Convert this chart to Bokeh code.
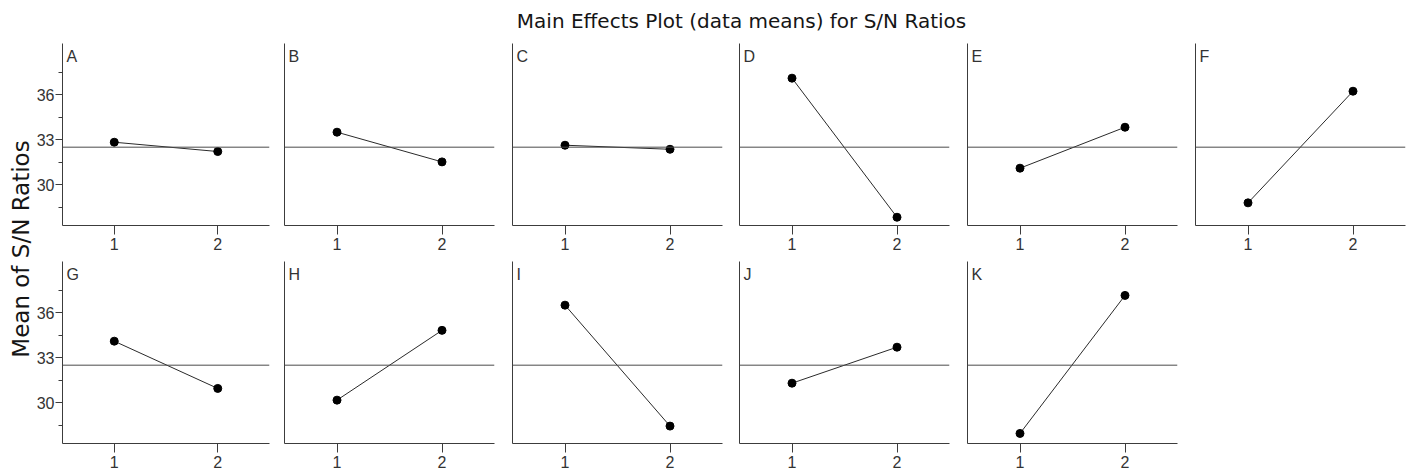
import math
from bokeh.plotting import figure
from bokeh.layouts import row, column
from bokeh.models import Range1d, FixedTicker, Span, Label
from bokeh.embed import file_html
from bokeh.resources import INLINE

# ---------------- data ----------------
factors = ["A", "B", "C", "D", "E", "F", "G", "H", "I", "J", "K"]
levels = [1, 2]
level1_means = [32.84, 33.51, 32.64, 37.11, 31.11, 28.80, 34.11, 30.18, 36.51, 31.31, 27.96]
level2_means = [32.22, 31.53, 32.37, 27.84, 33.84, 36.24, 30.96, 34.83, 28.45, 33.71, 37.16]
grand_mean = 32.51
y_major_ticks = [30, 33, 36]
y_minor_ticks = [28.5, 31.5, 34.5, 37.5]
x_ticks = [1, 2]
title_text = "Main Effects Plot (data means) for S/N Ratios"
ylabel_text = "Mean of S/N Ratios"

# ---------------- styling / geometry ----------------
TICK_FONT = "Liberation Sans"
AX = "#3c3c3c"
FRAME_W = 210
FRAME_H = 182
Y_LO, Y_HI = 27.29, 39.42
X_LO, X_HI = 0.5, 2.5

LAB_W = 33
# per column: (figure width, left border)
col_geom = [(277 - LAB_W, 59 - LAB_W), (227, 7), (227, 8), (228, 8), (228, 8), (228, 8)]
row_geom = [(1, 33), (3, 32)]  # (top border, bottom border)
TITLE_H = 42


def make_panel(idx, col, rw):
    w, left = col_geom[col]
    top, bottom = row_geom[rw]
    right = w - left - FRAME_W
    p = figure(width=w, height=top + FRAME_H + bottom,
               x_range=Range1d(X_LO, X_HI), y_range=Range1d(Y_LO, Y_HI),
               output_backend="svg", toolbar_location=None, tools="",
               min_border_left=left, min_border_right=right,
               min_border_top=top, min_border_bottom=bottom)
    p.outline_line_color = None
    p.grid.visible = False
    p.background_fill_color = "white"
    p.border_fill_color = "white"

    xa = p.xaxis[0]
    xa.ticker = FixedTicker(ticks=x_ticks, minor_ticks=[])
    xa.axis_line_color = AX
    xa.major_tick_line_color = AX
    xa.major_tick_out = 9
    xa.major_tick_in = 0
    xa.minor_tick_out = 0
    xa.minor_tick_in = 0
    xa.major_label_standoff = 3
    xa.major_label_text_font = TICK_FONT
    xa.major_label_text_font_size = "16px"
    xa.major_label_text_color = "#333333"

    ya = p.yaxis[0]
    ya.axis_line_color = AX
    if col == 0:
        ya.ticker = FixedTicker(ticks=y_major_ticks, minor_ticks=y_minor_ticks)
        ya.major_tick_line_color = AX
        ya.minor_tick_line_color = AX
        ya.major_tick_out = 7
        ya.major_tick_in = 0
        ya.minor_tick_out = 4
        ya.minor_tick_in = 0
        ya.major_label_standoff = 1
        ya.major_label_text_font = TICK_FONT
        ya.major_label_text_font_size = "16px"
        ya.major_label_text_color = "#333333"
    else:
        ya.ticker = FixedTicker(ticks=[], minor_ticks=[])
        ya.major_tick_out = 0
        ya.major_tick_in = 0
        ya.minor_tick_out = 0
        ya.minor_tick_in = 0
        ya.major_label_standoff = 0

    p.add_layout(Span(location=grand_mean, dimension="width",
                      line_color="#4a4a4a", line_width=1))

    ys = [level1_means[idx], level2_means[idx]]
    p.line(levels, ys, line_color="#2a2a2a", line_width=1)
    p.scatter(levels, ys, size=8, fill_color="black", line_color="black")

    p.add_layout(Label(x=X_LO, y=Y_HI, x_offset=4, y_offset=-4,
                       text=factors[idx], text_baseline="top",
                       text_font=TICK_FONT, text_font_size="16px",
                       text_color="#333333"))
    return p


top_row = [make_panel(i, i, 0) for i in range(6)]
bottom_row = [make_panel(6 + i, i, 1) for i in range(5)]

# title strip
tfig = figure(width=1415, height=TITLE_H, x_range=Range1d(0, 1415),
              y_range=Range1d(0, TITLE_H), output_backend="svg",
              toolbar_location=None, tools="", x_axis_type=None,
              y_axis_type=None, min_border=0)
tfig.outline_line_color = None
tfig.grid.visible = False
tfig.add_layout(Label(x=741, y=TITLE_H - 27.3 + 6.5, text=title_text,
                      text_align="center", text_baseline="alphabetic",
                      text_font="DejaVu Sans", text_font_size="20px",
                      text_color="#151515"))

# y label strip
LAB_H = sum(t + FRAME_H + b for t, b in row_geom)
lfig = figure(width=LAB_W, height=LAB_H, x_range=Range1d(0, LAB_W),
              y_range=Range1d(0, LAB_H), output_backend="svg",
              toolbar_location=None, tools="", x_axis_type=None,
              y_axis_type=None, min_border=0)
lfig.outline_line_color = None
lfig.grid.visible = False
lfig.add_layout(Label(x=20, y=LAB_H - (248.5 - TITLE_H), text=ylabel_text,
                      angle=math.pi / 2, text_align="center",
                      text_baseline="alphabetic",
                      text_font="DejaVu Sans", text_font_size="23px",
                      text_color="#151515"))

layout = column(tfig, row(lfig, column(row(*top_row), row(*bottom_row))))

with open("out.html", "w") as f:
    f.write(file_html(layout, INLINE))
